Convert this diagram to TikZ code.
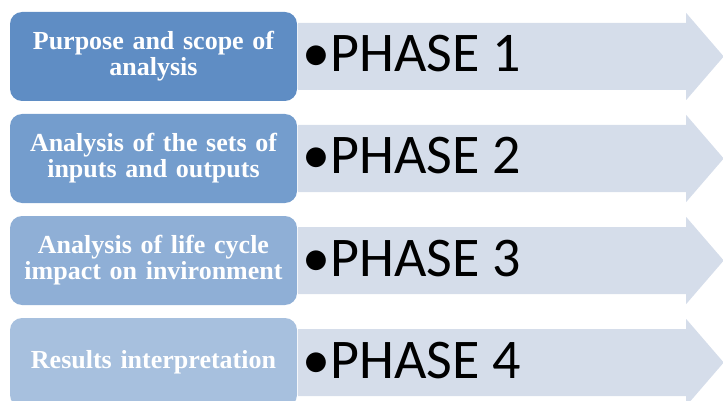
\documentclass[tikz,border=0pt]{standalone}
\usepackage{fontspec}
\newfontfamily\boxfont{Liberation Serif}
\newfontfamily\phasefont{Carlito}
\usepackage{xcolor}
\usepackage{tikz}
\usetikzlibrary{positioning}
\definecolor{stepA}{RGB}{95,141,196}
\definecolor{stepB}{RGB}{116,157,205}
\definecolor{stepC}{RGB}{143,175,214}
\definecolor{stepD}{RGB}{167,192,222}
\definecolor{arrowfill}{RGB}{213,221,234}
\tikzstyle{phasebox} = [rectangle, rounded corners=12pt, minimum width=287pt, minimum height=89pt, text width=275pt, align=center, inner sep=0pt, text=white, font=\boxfont\bfseries\fontsize{26}{26}\selectfont]
\tikzstyle{phasetext} = [anchor=base west, inner sep=0pt, font=\phasefont\fontsize{56}{56}\selectfont]
\tikzstyle{phasearrow} = [fill=arrowfill]

\begin{document}
\begin{tikzpicture}
		[x=1pt, y=1pt, node distance=102pt]
		\useasboundingbox (0,0) rectangle (723,-401);
		\clip (0,0) rectangle (723,-401);
		\node[phasebox, fill=stepA] (box1) at (153.5,-56.5) {Purpose and scope of\\analysis};
		\node[phasebox, fill=stepB, below of=box1] (box2) {Analysis of the sets of\\inputs and outputs};
		\node[phasebox, fill=stepC, below of=box2] (box3) {Analysis of life cycle\\impact on invironment};
		\node[phasebox, fill=stepD, below of=box3] (box4) {Results interpretation};
		
		% arrows behind the phase labels
		\foreach \i in {1,...,4} {
			\begin{scope}[shift={(box\i.east)}]
				\fill[phasearrow] (1,33.5) -- (389,33.5) -- (389,43.5) -- (426.5,0) -- (389,-43.5) -- (389,-33.5) -- (1,-33.5) -- cycle;
				\node[phasetext] (phase\i) at (5,-15.5) {•PHASE \i};
			\end{scope}
		}
		\end{tikzpicture}
\end{document}
